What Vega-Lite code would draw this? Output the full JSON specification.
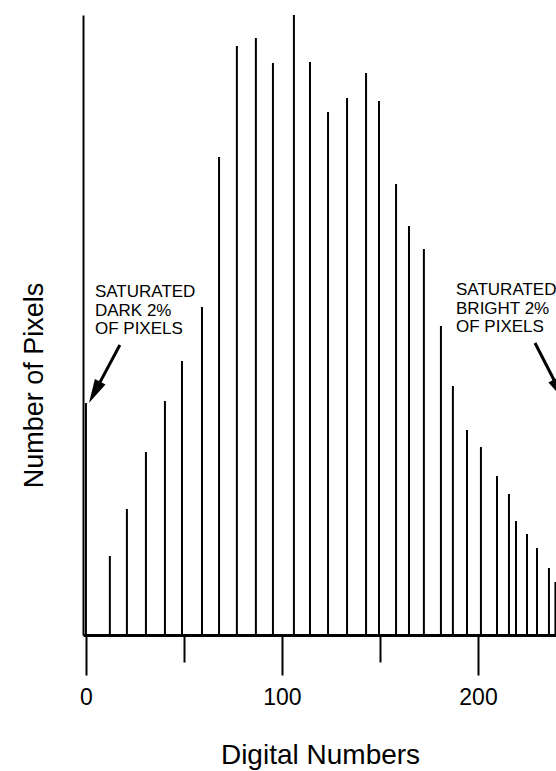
{
  "$schema": "https://vega.github.io/schema/vega-lite/v6.json",
  "autosize": {"type": "none"},
  "padding": {"left": 83, "top": 15, "right": 0, "bottom": 136},
  "width": 473,
  "height": 620,
  "background": "white",
  "config": {"view": {"stroke": null}, "font": "Liberation Sans"},
  "datasets": {
    "hist": [
      {"dn": 0, "count": 232},
      {"dn": 12.2, "count": 79},
      {"dn": 20.9, "count": 126},
      {"dn": 30.6, "count": 183},
      {"dn": 40.3, "count": 234},
      {"dn": 49.0, "count": 274},
      {"dn": 59.2, "count": 328},
      {"dn": 67.9, "count": 478},
      {"dn": 77.0, "count": 589},
      {"dn": 86.7, "count": 597},
      {"dn": 95.4, "count": 572},
      {"dn": 106.1, "count": 620},
      {"dn": 114.3, "count": 573},
      {"dn": 123.5, "count": 523},
      {"dn": 133.2, "count": 537},
      {"dn": 142.9, "count": 562},
      {"dn": 149.5, "count": 534},
      {"dn": 158.2, "count": 451},
      {"dn": 164.8, "count": 409},
      {"dn": 172.4, "count": 386},
      {"dn": 181.1, "count": 309},
      {"dn": 187.2, "count": 249},
      {"dn": 194.4, "count": 205},
      {"dn": 201.5, "count": 188},
      {"dn": 209.7, "count": 159},
      {"dn": 215.8, "count": 141},
      {"dn": 219.4, "count": 114},
      {"dn": 225.0, "count": 101},
      {"dn": 230.1, "count": 87},
      {"dn": 236.2, "count": 67},
      {"dn": 239.5, "count": 53}
    ],
    "notes": [
      {"dn": 4.6, "count": 338, "label": "SATURATED\nDARK 2%\nOF PIXELS"},
      {"dn": 188.8, "count": 340, "label": "SATURATED\nBRIGHT 2%\nOF PIXELS"}
    ],
    "shafts": [
      {"side": "dark", "dn": 17.3, "count": 290, "dn2": 4.4, "count2": 242.6},
      {"side": "bright", "dn": 229.1, "count": 292, "dn2": 241.5, "count2": 244.6}
    ]
  },
  "layer": [
    {
      "data": {"name": "hist"},
      "mark": {"type": "rule", "strokeWidth": 2, "color": "#000"},
      "encoding": {
        "x": {
          "field": "dn", "type": "quantitative",
          "scale": {"domain": [-1.5, 239.8], "nice": false, "zero": false},
          "axis": {
            "values": [0, 50, 100, 150, 200],
            "title": "Digital Numbers",
            "titleFont": "Liberation Sans",
            "titleFontSize": 28,
            "titleFontWeight": "normal",
            "titleColor": "#000",
            "titleX": 237,
            "titleY": 128,
            "titleAlign": "center",
            "titleBaseline": "alphabetic",
            "labelExpr": "datum.value % 100 === 0 ? datum.label : ''",
            "labelFontSize": 23,
            "labelColor": "#000",
            "labelPadding": 11,
            "labelFlush": false,
            "labelOverlap": false,
            "tickSize": {"condition": {"test": "datum.value % 100 === 0", "value": 40}, "value": 27},
            "tickWidth": 2,
            "tickColor": "#000",
            "domainWidth": 3,
            "domainColor": "#000",
            "grid": false
          }
        },
        "y": {
          "field": "count", "type": "quantitative",
          "scale": {"domain": [0, 620], "nice": false},
          "axis": {
            "title": "Number of Pixels",
            "titleFont": "Liberation Sans",
            "titleFontSize": 27,
            "titleFontWeight": "normal",
            "titleColor": "#000",
            "titleX": -41,
            "titleY": 370,
            "titleAngle": -90,
            "titleAlign": "center",
            "titleBaseline": "alphabetic",
            "ticks": false,
            "labels": false,
            "domainWidth": 2,
            "domainColor": "#000",
            "grid": false
          }
        },
        "y2": {"datum": 0}
      }
    },
    {
      "data": {"name": "notes"},
      "mark": {"type": "text", "align": "left", "baseline": "alphabetic", "fontSize": 17, "lineHeight": 18.5, "lineBreak": "\n", "color": "#000", "font": "Liberation Sans"},
      "encoding": {
        "x": {"field": "dn", "type": "quantitative"},
        "y": {"field": "count", "type": "quantitative"},
        "text": {"field": "label", "type": "nominal"}
      }
    },
    {
      "data": {"name": "shafts"},
      "mark": {"type": "rule", "strokeWidth": 3, "color": "#000"},
      "encoding": {
        "x": {"field": "dn", "type": "quantitative"},
        "y": {"field": "count", "type": "quantitative"},
        "x2": {"field": "dn2"},
        "y2": {"field": "count2"}
      }
    },
    {
      "data": {"name": "shafts"},
      "transform": [{"filter": "datum.side === 'dark'"}],
      "mark": {"type": "point", "shape": "M0,-1L0.5,1L-0.5,1Z", "filled": true, "size": 576, "angle": 208, "color": "#000", "opacity": 1},
      "encoding": {
        "x": {"field": "dn2", "type": "quantitative"},
        "y": {"field": "count2", "type": "quantitative"}
      }
    },
    {
      "data": {"name": "shafts"},
      "transform": [{"filter": "datum.side === 'bright'"}],
      "mark": {"type": "point", "shape": "M0,-1L0.5,1L-0.5,1Z", "filled": true, "size": 576, "angle": 152, "color": "#000", "opacity": 1},
      "encoding": {
        "x": {"field": "dn2", "type": "quantitative"},
        "y": {"field": "count2", "type": "quantitative"}
      }
    }
  ]
}
